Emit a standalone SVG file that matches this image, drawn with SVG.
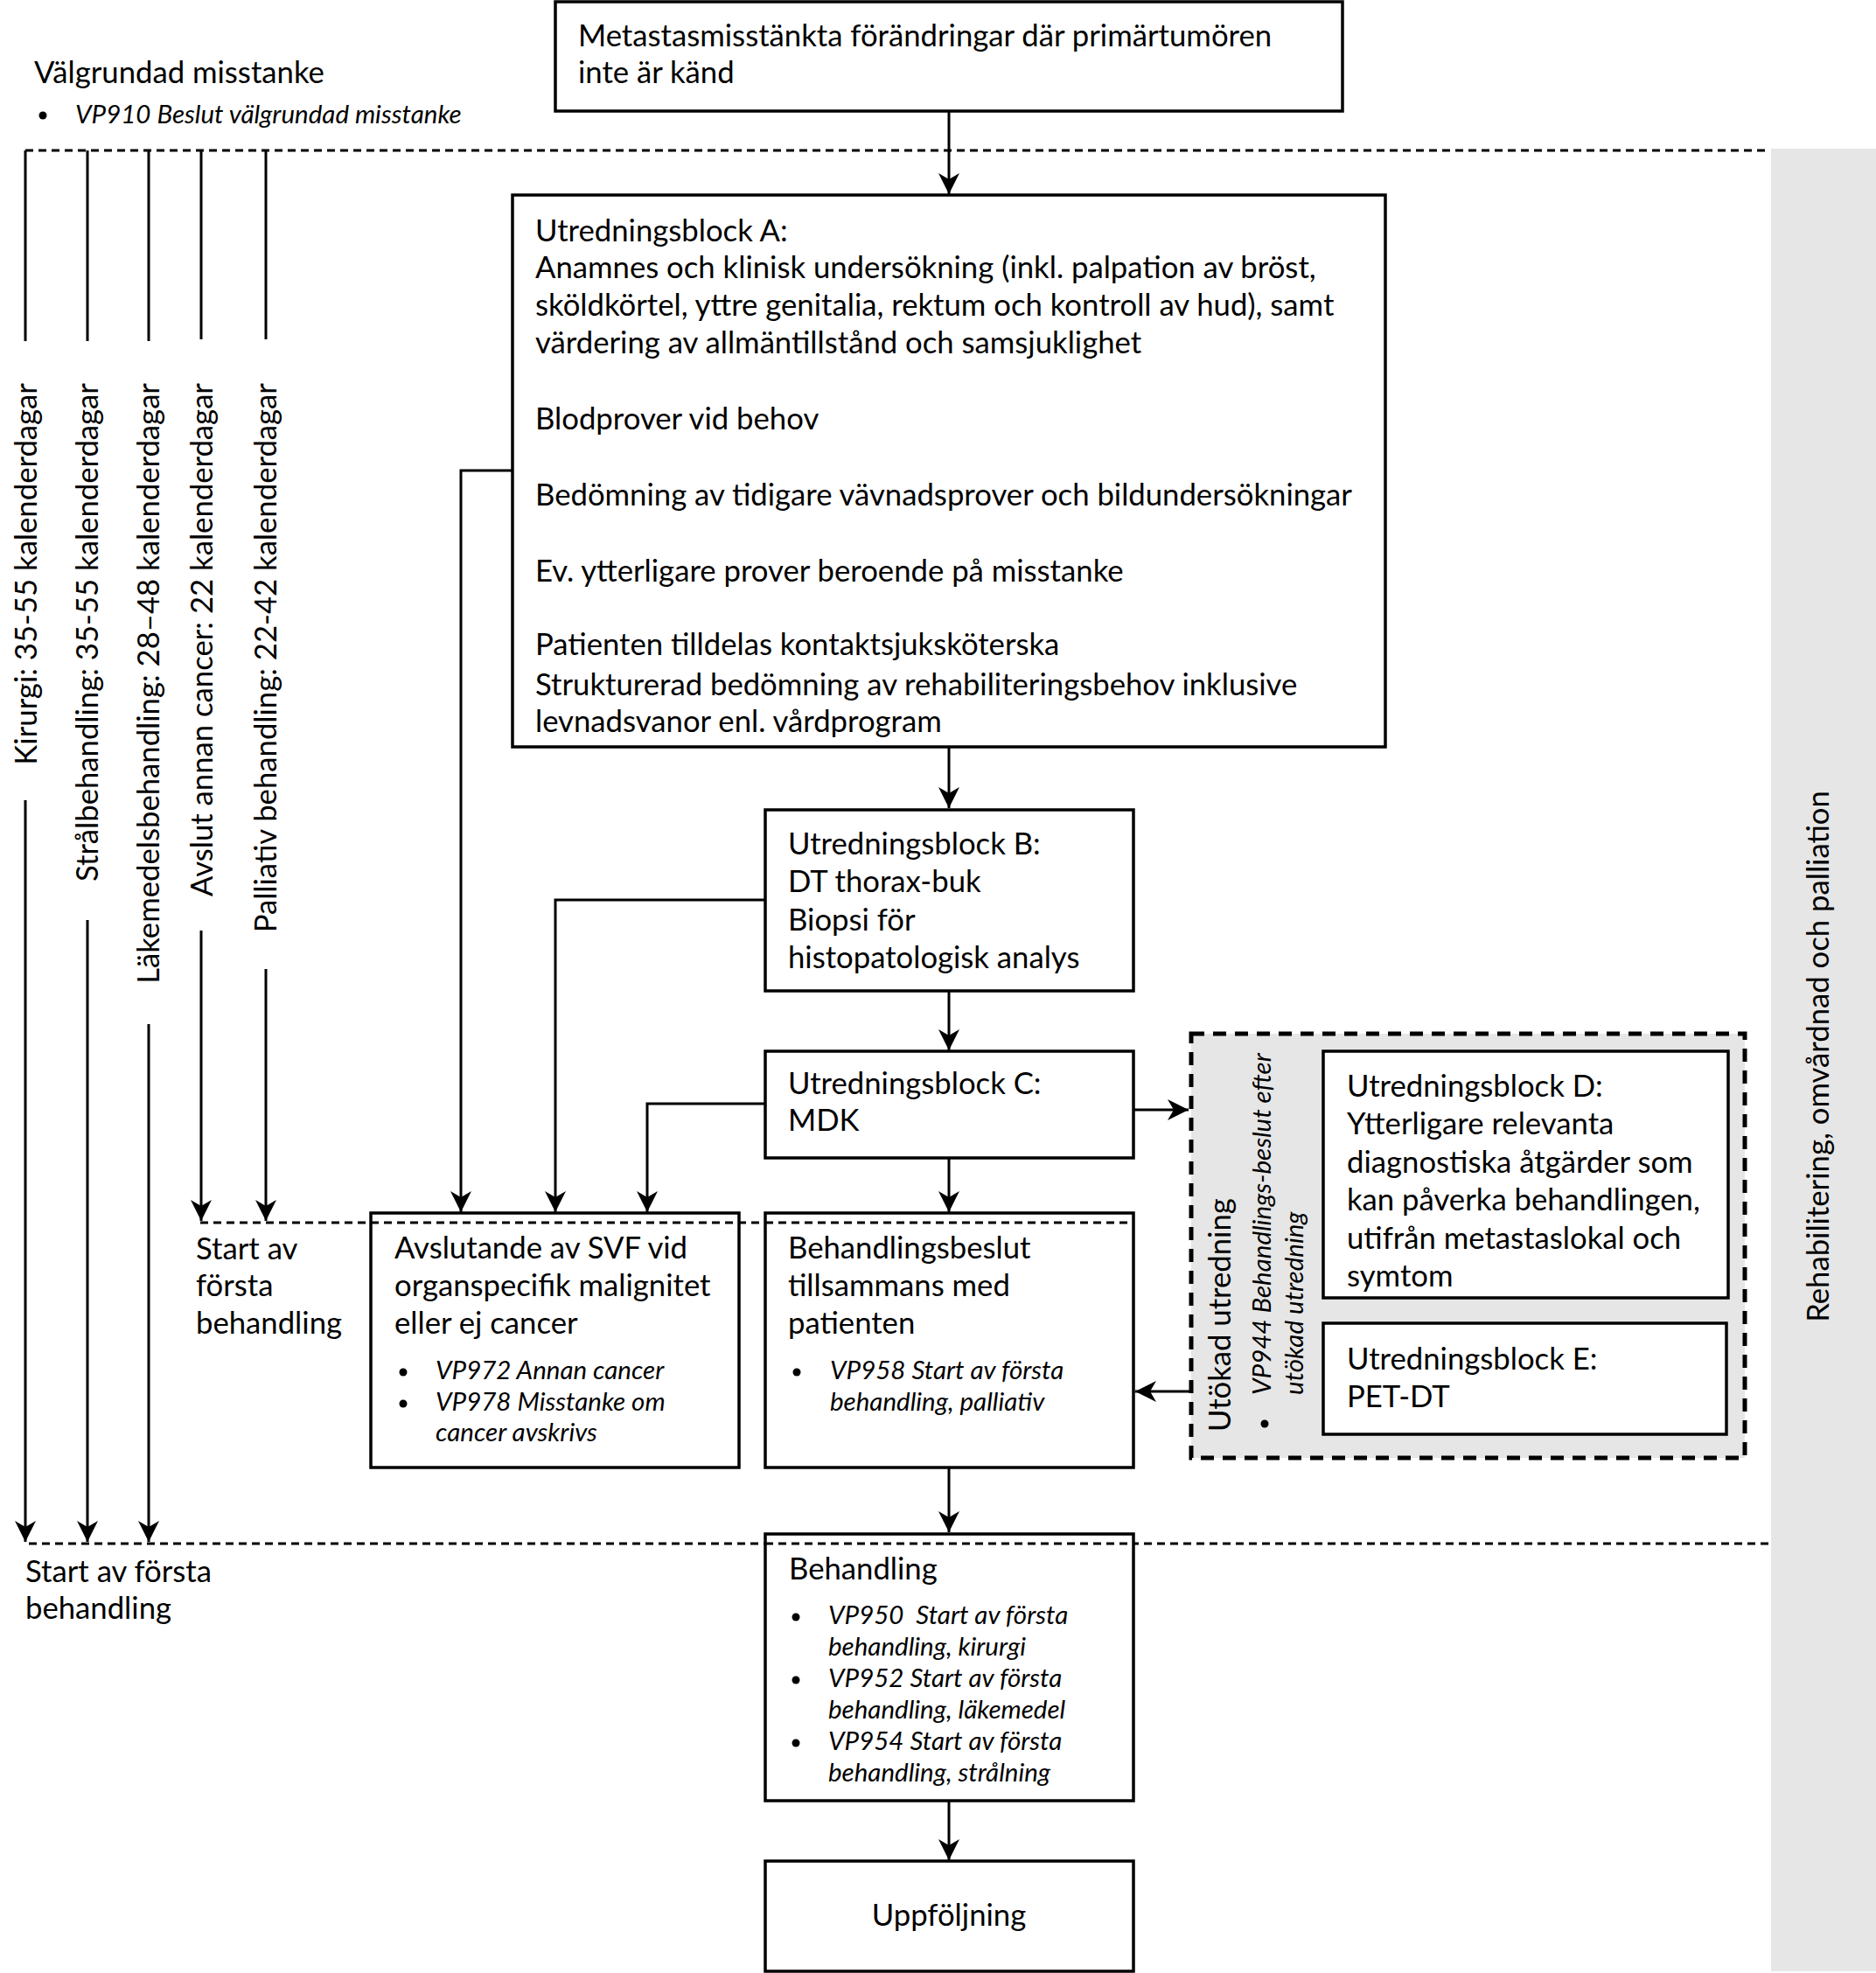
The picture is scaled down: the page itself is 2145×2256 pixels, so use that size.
<svg xmlns="http://www.w3.org/2000/svg" width="2145" height="2256" viewBox="0 0 2145 2256">
<defs>
<style>
.t{font-family:Lato,"Liberation Sans",sans-serif;font-size:34.7px;fill:#000}
.i{font-family:Lato,"Liberation Sans",sans-serif;font-size:29.5px;font-style:italic;fill:#000}
.box{fill:#fff;stroke:#000;stroke-width:3.5}
.ln{fill:none;stroke:#000;stroke-width:3}
.arr{fill:none;stroke:#000;stroke-width:3;marker-end:url(#ah)}
.dash{fill:none;stroke:#000;stroke-width:3;stroke-dasharray:9 6}
</style>
<marker id="ah" markerUnits="userSpaceOnUse" markerWidth="26" markerHeight="26" refX="24" refY="12" orient="auto">
<path d="M0,0 L24,12 L0,24 L7,12 Z" fill="#000"/>
</marker>
<clipPath id="vp910clip"><rect x="0" y="100" width="528" height="60"/></clipPath>
</defs>
<rect id="rehab-band" x="2025" y="170" width="120" height="2084" fill="#e6e6e6"/>
<text class="t" transform="translate(2091,1208) rotate(-90)" text-anchor="middle" font-size="35">Rehabilitering, omvårdnad och palliation</text>

<g id="header">
<text class="t" x="39" y="95">Välgrundad misstanke</text>
<circle cx="49" cy="132" r="4.5"/>
<text class="i" x="86" y="141" clip-path="url(#vp910clip)">VP910 Beslut välgrundad misstanke</text>
</g>

<g id="timelines">
<path class="dash" d="M29,172 H2023" stroke-dasharray="10 8"/>
<path class="dash" d="M229,1398 H1290"/>
<path class="dash" d="M33,1765 H2023"/>
<text class="t" x="224" y="1440">Start av</text>
<text class="t" x="224" y="1482">första</text>
<text class="t" x="224" y="1525">behandling</text>
<text class="t" x="29" y="1809">Start av första</text>
<text class="t" x="29" y="1851">behandling</text>
<text class="t" transform="translate(42,438) rotate(-90)" text-anchor="end">Kirurgi: 35-55 kalenderdagar</text>
<text class="t" transform="translate(112,438) rotate(-90)" text-anchor="end">Strålbehandling: 35-55 kalenderdagar</text>
<text class="t" transform="translate(182,438) rotate(-90)" text-anchor="end">Läkemedelsbehandling: 28–48 kalenderdagar</text>
<text class="t" transform="translate(243,438) rotate(-90)" text-anchor="end">Avslut annan cancer: 22 kalenderdagar</text>
<text class="t" transform="translate(316,438) rotate(-90)" text-anchor="end">Palliativ behandling: 22-42 kalenderdagar</text>
</g>

<g id="connectors">
<path class="ln" d="M29,172 V390"/>
<path class="ln" d="M100,172 V390"/>
<path class="ln" d="M170,172 V390"/>
<path class="ln" d="M230,172 V388"/>
<path class="ln" d="M304,172 V388"/>
<path class="arr" d="M29,915 V1763"/>
<path class="arr" d="M100,1052 V1763"/>
<path class="arr" d="M170,1171 V1763"/>
<path class="arr" d="M230,1064 V1396"/>
<path class="arr" d="M304,1108 V1396"/>
<path class="arr" d="M1085,127 V222"/>
<path class="arr" d="M1085,854 V924"/>
<path class="arr" d="M1085,1133 V1201"/>
<path class="arr" d="M1085,1324 V1386"/>
<path class="arr" d="M1085,1678 V1752"/>
<path class="arr" d="M1085,2059 V2127"/>
<path class="arr" d="M586,538 H527 V1386"/>
<path class="arr" d="M875,1029 H635 V1386"/>
<path class="arr" d="M875,1262 H740 V1386"/>
<path class="arr" d="M1296,1269 H1359"/>
<path class="arr" d="M1360,1591 H1298"/>
</g>

<g id="metastas">
<rect class="box" x="635" y="2" width="900" height="125"/>
<text class="t" x="661" y="53">Metastasmisstänkta förändringar där primärtumören</text>
<text class="t" x="661" y="95">inte är känd</text>
</g>

<g id="block-a">
<rect class="box" x="586" y="223" width="998" height="631"/>
<text class="t" x="612" y="276">Utredningsblock A:</text>
<text class="t" x="612" y="318">Anamnes och klinisk undersökning (inkl. palpation av bröst,</text>
<text class="t" x="612" y="361">sköldkörtel, yttre genitalia, rektum och kontroll av hud), samt</text>
<text class="t" x="612" y="404">värdering av allmäntillstånd och samsjuklighet</text>
<text class="t" x="612" y="491">Blodprover vid behov</text>
<text class="t" x="612" y="578">Bedömning av tidigare vävnadsprover och bildundersökningar</text>
<text class="t" x="612" y="665">Ev. ytterligare prover beroende på misstanke</text>
<text class="t" x="612" y="749">Patienten tilldelas kontaktsjuksköterska</text>
<text class="t" x="612" y="795">Strukturerad bedömning av rehabiliteringsbehov inklusive</text>
<text class="t" x="612" y="837">levnadsvanor enl. vårdprogram</text>
</g>

<g id="block-b">
<rect class="box" x="875" y="926" width="421" height="207"/>
<text class="t" x="901" y="977">Utredningsblock B:</text>
<text class="t" x="901" y="1020">DT thorax-buk</text>
<text class="t" x="901" y="1064">Biopsi för</text>
<text class="t" x="901" y="1107">histopatologisk analys</text>
</g>

<g id="block-c">
<rect class="box" x="875" y="1202" width="421" height="122"/>
<text class="t" x="901" y="1251">Utredningsblock C:</text>
<text class="t" x="901" y="1293">MDK</text>
</g>

<g id="utokad">
<rect x="1362" y="1182" width="633" height="485" fill="#e6e6e6" stroke="#000" stroke-width="5" stroke-dasharray="15 10"/>
<text class="t" transform="translate(1407,1637) rotate(-90)" font-size="36.5">Utökad utredning</text>
<circle cx="1446" cy="1628" r="4.5"/>
<text class="i" transform="translate(1453,1595) rotate(-90)">VP944 Behandlings-beslut efter</text>
<text class="i" transform="translate(1490,1595) rotate(-90)">utökad utredning</text>
</g>

<g id="block-d">
<rect class="box" x="1513" y="1202" width="463" height="282"/>
<text class="t" x="1540" y="1254">Utredningsblock D:</text>
<text class="t" x="1540" y="1297">Ytterligare relevanta</text>
<text class="t" x="1540" y="1341">diagnostiska åtgärder som</text>
<text class="t" x="1540" y="1384">kan påverka behandlingen,</text>
<text class="t" x="1540" y="1428">utifrån metastaslokal och</text>
<text class="t" x="1540" y="1471">symtom</text>
</g>

<g id="block-e">
<rect class="box" x="1513" y="1513" width="461" height="127"/>
<text class="t" x="1540" y="1566">Utredningsblock E:</text>
<text class="t" x="1540" y="1609">PET-DT</text>
</g>

<g id="avslutande">
<rect class="box" x="424" y="1387" width="421" height="291"/>
<path class="dash" d="M424,1398 H845"/>
<text class="t" x="451" y="1439">Avslutande av SVF vid</text>
<text class="t" x="451" y="1482">organspecifik malignitet</text>
<text class="t" x="451" y="1525">eller ej cancer</text>
<circle cx="461" cy="1569" r="4.5"/>
<text class="i" x="498" y="1577">VP972 Annan cancer</text>
<circle cx="461" cy="1605" r="4.5"/>
<text class="i" x="498" y="1613">VP978 Misstanke om</text>
<text class="i" x="498" y="1648">cancer avskrivs</text>
</g>

<g id="behandlingsbeslut">
<rect class="box" x="875" y="1387" width="421" height="291"/>
<path class="dash" d="M875,1398 H1290"/>
<text class="t" x="901" y="1439">Behandlingsbeslut</text>
<text class="t" x="901" y="1482">tillsammans med</text>
<text class="t" x="901" y="1525">patienten</text>
<circle cx="911" cy="1569" r="4.5"/>
<text class="i" x="949" y="1577">VP958 Start av första</text>
<text class="i" x="949" y="1613">behandling, palliativ</text>
</g>

<g id="behandling">
<rect class="box" x="875" y="1754" width="421" height="305"/>
<path class="dash" d="M875,1765 H1296"/>
<text class="t" x="902" y="1806">Behandling</text>
<circle cx="910" cy="1849" r="4.5"/>
<text class="i" x="947" y="1857" xml:space="preserve" style="white-space:pre">VP950  Start av första</text>
<text class="i" x="947" y="1893">behandling, kirurgi</text>
<circle cx="910" cy="1921" r="4.5"/>
<text class="i" x="947" y="1929">VP952 Start av första</text>
<text class="i" x="947" y="1965">behandling, läkemedel</text>
<circle cx="910" cy="1993" r="4.5"/>
<text class="i" x="947" y="2001">VP954 Start av första</text>
<text class="i" x="947" y="2037">behandling, strålning</text>
</g>

<g id="uppfoljning">
<rect class="box" x="875" y="2128" width="421" height="126"/>
<text class="t" x="1085" y="2202" text-anchor="middle">Uppföljning</text>
</g>
</svg>
